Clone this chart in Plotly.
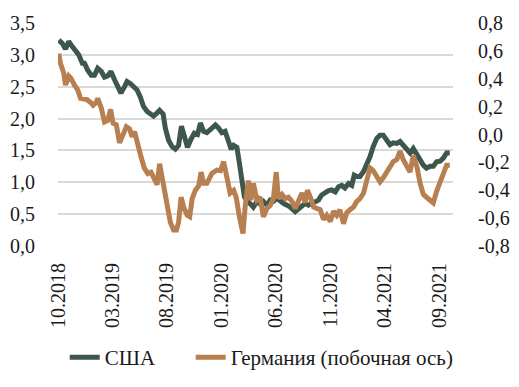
import plotly.graph_objects as go

us_dates = ["2018-10-03","2018-10-13","2018-10-22","2018-10-31","2018-11-10","2018-11-19","2018-11-28","2018-12-08","2018-12-14","2018-12-23",
"2019-01-02","2019-01-11","2019-01-20","2019-01-30","2019-02-08","2019-02-17","2019-02-26","2019-03-08","2019-03-17","2019-03-26",
"2019-04-05","2019-04-12","2019-04-21","2019-05-01","2019-05-10","2019-05-19","2019-05-28","2019-06-07","2019-06-16","2019-06-25",
"2019-07-05","2019-07-12","2019-07-22","2019-07-28","2019-08-06","2019-08-16","2019-08-25","2019-09-03","2019-09-11","2019-09-19",
"2019-09-28","2019-10-08","2019-10-17","2019-10-26","2019-11-03","2019-11-12","2019-11-21","2019-12-03","2019-12-15","2019-12-24",
"2020-01-02","2020-01-11","2020-01-21","2020-01-28","2020-02-04","2020-02-13","2020-02-20","2020-02-27","2020-03-05","2020-03-12",
"2020-03-21","2020-03-30","2020-04-09","2020-04-18","2020-04-27","2020-05-07","2020-05-16","2020-05-25","2020-06-04","2020-06-13",
"2020-06-22","2020-07-02","2020-07-11","2020-07-25","2020-08-03","2020-08-13","2020-08-22","2020-08-31","2020-09-09","2020-09-19",
"2020-09-28","2020-10-07","2020-10-17","2020-10-26","2020-11-04","2020-11-14","2020-11-23","2020-12-02","2020-12-11","2020-12-21",
"2020-12-30","2021-01-06","2021-01-13","2021-01-22","2021-02-01","2021-02-10","2021-02-19","2021-02-28","2021-03-10","2021-03-19",
"2021-03-28","2021-04-07","2021-04-16","2021-04-25","2021-05-05","2021-05-14","2021-05-23","2021-06-02","2021-06-11","2021-06-20",
"2021-06-30","2021-07-09","2021-07-18","2021-07-27","2021-08-06","2021-08-15","2021-08-24","2021-09-03","2021-09-12","2021-09-21",
"2021-09-30"]
us_values = [3.23,3.18,3.09,3.21,3.13,3.05,3.00,2.87,2.87,2.76,
2.68,2.68,2.79,2.74,2.65,2.67,2.74,2.61,2.48,2.40,
2.50,2.58,2.55,2.51,2.45,2.34,2.19,2.11,2.08,2.04,
2.09,2.13,2.07,1.85,1.66,1.56,1.52,1.58,1.88,1.72,
1.55,1.68,1.77,1.75,1.93,1.80,1.78,1.84,1.90,1.85,
1.78,1.80,1.66,1.52,1.58,1.55,1.30,0.95,0.77,0.72,
0.66,0.61,0.70,0.66,0.70,0.64,0.72,0.70,0.75,0.70,
0.67,0.64,0.61,0.54,0.59,0.62,0.67,0.64,0.67,0.70,
0.72,0.80,0.85,0.87,0.88,0.85,0.93,0.95,0.91,0.98,
0.95,1.11,1.09,1.09,1.17,1.27,1.40,1.56,1.69,1.74,
1.74,1.66,1.59,1.62,1.61,1.64,1.59,1.51,1.46,1.53,
1.43,1.35,1.27,1.22,1.25,1.25,1.32,1.33,1.38,1.46,
1.46]

de_dates = ["2018-10-03","2018-10-08","2018-10-17","2018-10-22","2018-10-31","2018-11-07","2018-11-16","2018-11-25","2018-12-03","2018-12-12",
"2018-12-21","2018-12-31","2019-01-07","2019-01-16","2019-01-20","2019-01-30","2019-02-08","2019-02-17","2019-02-25","2019-03-04",
"2019-03-13","2019-03-22","2019-04-01","2019-04-10","2019-04-19","2019-04-26","2019-05-03","2019-05-12","2019-05-21","2019-05-30",
"2019-06-09","2019-06-18","2019-06-27","2019-07-05","2019-07-12","2019-07-22","2019-07-28","2019-08-05","2019-08-11","2019-08-20",
"2019-08-28","2019-09-03","2019-09-10","2019-09-17","2019-09-27","2019-10-04","2019-10-11","2019-10-20","2019-10-29","2019-11-05",
"2019-11-12","2019-11-21","2019-12-05","2019-12-19","2019-12-29","2020-01-07","2020-01-16","2020-01-25","2020-02-04","2020-02-11",
"2020-02-20","2020-03-01","2020-03-07","2020-03-16","2020-03-23","2020-03-30","2020-04-09","2020-04-18","2020-04-27","2020-05-07",
"2020-05-16","2020-05-25","2020-06-02","2020-06-08","2020-06-18","2020-06-27","2020-07-06","2020-07-16","2020-07-25","2020-08-03",
"2020-08-13","2020-08-22","2020-08-28","2020-09-07","2020-09-14","2020-09-23","2020-10-03","2020-10-12","2020-10-21","2020-10-31",
"2020-11-09","2020-11-18","2020-11-27","2020-12-07","2020-12-16","2020-12-25","2021-01-04","2021-01-13","2021-01-22","2021-02-01",
"2021-02-10","2021-02-19","2021-02-28","2021-03-10","2021-03-19","2021-03-28","2021-04-07","2021-04-16","2021-04-25","2021-05-05",
"2021-05-14","2021-05-23","2021-06-02","2021-06-11","2021-06-20","2021-06-30","2021-07-09","2021-07-18","2021-07-27","2021-08-06",
"2021-08-15","2021-08-24","2021-09-03","2021-09-12","2021-09-21","2021-09-30"]
de_values = [0.58,0.51,0.44,0.355,0.42,0.40,0.355,0.32,0.26,0.255,
0.25,0.23,0.21,0.23,0.26,0.19,0.09,0.10,0.18,0.08,
0.07,-0.06,0.01,0.056,0.04,-0.016,0.02,-0.09,-0.16,-0.24,
-0.28,-0.27,-0.33,-0.36,-0.21,-0.34,-0.42,-0.52,-0.63,-0.685,
-0.685,-0.63,-0.45,-0.52,-0.58,-0.59,-0.46,-0.40,-0.37,-0.27,
-0.35,-0.35,-0.28,-0.255,-0.26,-0.195,-0.30,-0.42,-0.40,-0.45,
-0.59,-0.71,-0.52,-0.33,-0.47,-0.35,-0.47,-0.45,-0.59,-0.53,
-0.51,-0.46,-0.27,-0.46,-0.43,-0.46,-0.45,-0.48,-0.53,-0.47,
-0.42,-0.49,-0.40,-0.46,-0.52,-0.53,-0.54,-0.61,-0.58,-0.625,
-0.55,-0.58,-0.54,-0.64,-0.56,-0.54,-0.52,-0.48,-0.46,-0.42,
-0.34,-0.24,-0.26,-0.30,-0.34,-0.31,-0.27,-0.24,-0.195,-0.18,
-0.12,-0.18,-0.22,-0.27,-0.15,-0.23,-0.35,-0.43,-0.45,-0.47,
-0.49,-0.41,-0.34,-0.27,-0.22,-0.22]

tick_dates = ["2018-10-01","2019-03-01","2019-08-01","2020-01-01","2020-06-01","2020-11-01","2021-04-01","2021-09-01"]
tick_labels = ["10.2018","03.2019","08.2019","01.2020","06.2020","11.2020","04.2021","09.2021"]
left_ticks = [0.0,0.5,1.0,1.5,2.0,2.5,3.0,3.5]
right_ticks = [-0.8,-0.6,-0.4,-0.2,0.0,0.2,0.4,0.6,0.8]
right_labels = ["-0,8","-0,6","-0,4","-0,2","0,0","0,2","0,4","0,6","0,8"]

US_COLOR = "#3e574c"
DE_COLOR = "#b87f51"
FONT = "Liberation Serif"
FS = 20
LEG_FONT = dict(family=FONT, size=21, color="#1a1a1a")

fig = go.Figure()
fig.add_trace(go.Scatter(x=us_dates, y=us_values, name="США", mode="lines",
                         line=dict(color=US_COLOR, width=5), yaxis="y", legend="legend"))
fig.add_trace(go.Scatter(x=de_dates, y=de_values, name="Германия (побочная ось)", mode="lines",
                         line=dict(color=DE_COLOR, width=5), yaxis="y2", legend="legend2"))

fig.update_layout(
    width=503, height=370,
    margin=dict(l=50, r=58, t=15, b=132, autoexpand=False),
    paper_bgcolor="white", plot_bgcolor="white",
    separators=", ",
    font=dict(family=FONT, size=FS, color="#1a1a1a"),
    showlegend=True,
    legend=dict(orientation="h", x=0.017, xanchor="left", y=-0.5, yanchor="middle",
                font=LEG_FONT, itemwidth=30, bgcolor="rgba(0,0,0,0)"),
    legend2=dict(orientation="h", x=0.336, xanchor="left", y=-0.5, yanchor="middle",
                 font=LEG_FONT, itemwidth=30, bgcolor="rgba(0,0,0,0)"),
    xaxis=dict(type="date", range=["2018-10-01", "2021-10-09"],
               tickmode="array", tickvals=tick_dates, ticktext=tick_labels,
               tickangle=-90, showgrid=False, zeroline=False, showline=False,
               ticks="outside", ticklen=8, tickcolor="rgba(0,0,0,0)",
               tickfont=dict(family=FONT, size=FS)),
    yaxis=dict(range=[0, 3.5], tickmode="array", tickvals=left_ticks, tickformat=".1f",
               showgrid=True, gridcolor="#d9d9d9", gridwidth=1.5, zeroline=False, showline=False,
               ticks="outside", ticklen=18, tickcolor="rgba(0,0,0,0)",
               tickfont=dict(family=FONT, size=FS)),
    yaxis2=dict(range=[-0.8, 0.8], overlaying="y", side="right", tickmode="array",
                tickvals=right_ticks, ticktext=right_labels, showgrid=False, zeroline=False,
                showline=False, ticks="outside", ticklen=20, tickcolor="rgba(0,0,0,0)",
                tickfont=dict(family=FONT, size=FS)),
)

fig.write_html("out.html")
